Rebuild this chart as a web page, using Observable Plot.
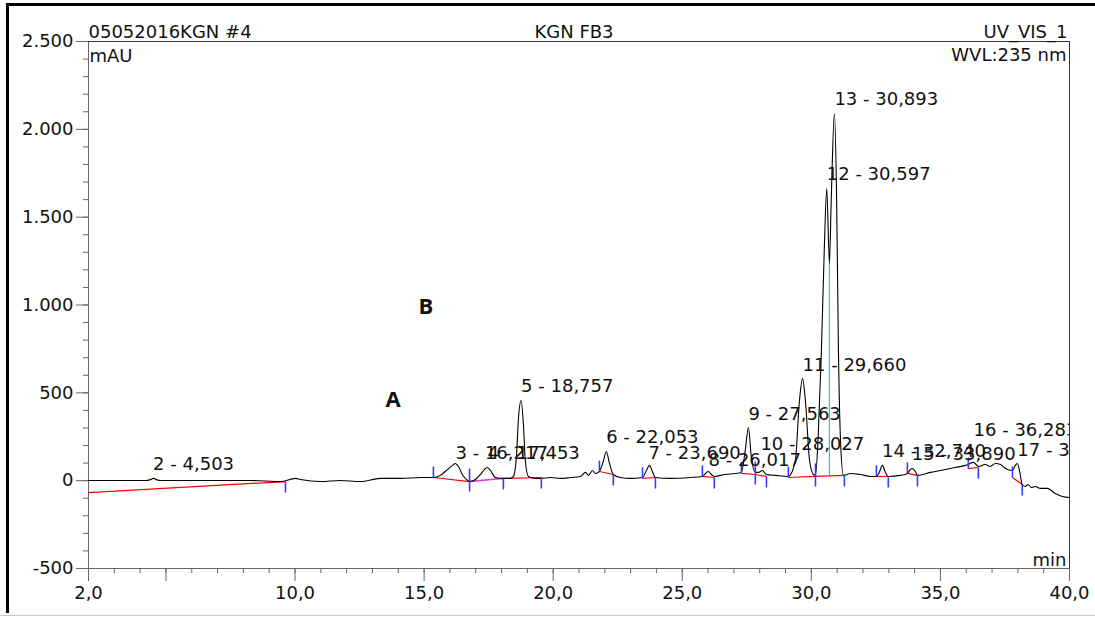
<!DOCTYPE html>
<html><head><meta charset="utf-8">
<script src="https://cdn.jsdelivr.net/npm/d3@7"></script>
<script src="https://cdn.jsdelivr.net/npm/@observablehq/plot@0.6"></script>
<style>
html,body{margin:0;padding:0;background:#fff;}
#wrap{position:relative;width:1095px;height:618px;overflow:hidden;}
#border{position:absolute;left:6px;top:3px;width:1089px;height:610px;border-left:3px solid #000;border-top:3px solid #000;box-sizing:border-box;pointer-events:none;}
#bottomline{position:absolute;left:0;top:615px;width:1095px;height:1px;background:#c8c8c8;}
</style></head><body><div id="wrap"><div id="border"></div><div id="bottomline"></div></div>
<script>
// Chromatogram trace (retention time in min, signal in mAU)
const traceTime = [2.00,3.24,4.21,4.40,4.52,4.63,4.79,6.34,8.27,9.44,10.02,10.21,10.98,11.75,12.53,13.31,14.08,14.86,15.36,15.63,15.86,16.10,16.21,16.33,16.48,16.64,16.76,16.99,17.18,17.34,17.45,17.57,17.76,18.07,18.34,18.46,18.58,18.65,18.757,18.85,18.92,19.04,19.31,19.54,19.89,20.28,20.67,21.06,21.25,21.37,21.52,21.64,21.79,21.95,22.06,22.17,22.33,22.60,22.99,23.46,23.61,23.73,23.84,23.96,24.54,25.32,25.78,25.90,26.01,26.13,26.24,26.67,27.06,27.29,27.44,27.563,27.67,27.83,27.95,28.10,28.26,28.61,29.11,29.38,29.54,29.66,29.77,29.93,30.08,30.16,30.27,30.39,30.50,30.597,30.70,30.77,30.893,30.98,31.05,31.13,31.24,31.51,31.90,32.29,32.52,32.63,32.75,32.87,32.98,33.45,33.72,33.84,33.91,34.03,34.11,34.61,35.00,35.58,35.97,36.08,36.28,36.47,36.74,36.93,37.13,37.33,37.52,37.79,37.90,37.98,38.06,38.17,38.29,38.40,38.52,38.68,38.87,39.14,39.45,39.72,40.00];
const traceMAU = [1,1,1,6,13,6,1,1,1,-5,13,7,-5,1,-5,13,13,18,18,30,58,87,98,81,35,7,-5,7,35,64,75,58,18,13,13,24,143,343,456,314,115,24,13,13,18,13,18,24,47,30,58,41,52,115,166,104,35,18,13,18,58,87,52,18,13,18,24,41,52,35,24,35,41,47,172,303,143,47,47,58,35,30,24,115,456,581,456,115,35,30,269,740,1310,1663,1237,1595,2090,1595,740,229,30,41,35,24,24,47,87,47,24,30,41,64,69,52,30,47,58,75,87,92,104,81,92,81,98,92,69,58,87,98,58,-22,-33,-22,-39,-33,-44,-44,-73,-90,-96];

// Peak annotations
const peakNo = [2,3,4,5,6,7,8,9,10,11,12,13,14,15,16,17];
const peakRT = [4.503,16.217,17.453,18.757,22.053,23.690,26.017,27.563,28.027,29.660,30.597,30.893,32.740,33.890,36.283,37.980];
const labelMAU = [58,121,121,502,212,126,81,348,172,627,1709,2136,132,115,257,143];

// Integration baselines (red)
const baseT1 = [2.00,15.36,18.07,21.79,23.46,25.78,27.29,27.83,29.11,30.16,32.52,33.72,36.08,37.79];
const baseV1 = [-68,18,13,52,13,24,41,35,18,24,24,41,69,18];
const baseT2 = [9.63,16.76,19.54,22.33,23.96,26.24,27.83,28.26,30.16,31.28,32.98,34.11,36.47,38.17];
const baseV2 = [-5,-5,18,35,18,18,35,24,24,30,24,30,75,-22];
// Baseline of peak 4 (magenta)
const base4T1 = [16.76], base4V1 = [-5], base4T2 = [18.07], base4V2 = [13];
// Drop line between peaks 12 and 13 (cyan)
const dropT = [30.70], dropTop = [1237], dropBottom = [27];

// Peak start / end markers (blue)
const markT = [9.63,15.36,16.76,18.07,19.54,21.79,22.33,23.46,23.96,25.78,26.24,27.29,27.83,28.26,29.11,30.16,31.28,32.52,32.98,33.72,34.11,36.08,36.47,37.79,38.17];
const markV = [-5,18,-5,13,18,52,35,13,18,24,18,41,35,24,18,24,30,24,24,41,30,69,75,18,-22];
const markKind = ["end","start","both","end","end","start","end","start","end","start","end","start","both","end","start","both","end","start","end","start","end","start","end","start","end"];

// Letters A / B
const letters = ["A","B"];
const letterT = [13.50,14.78];
const letterMAU = [422,946];

// Axis ticks
const xMajor = [2,5,10,15,20,25,30,35,40];
const xMinor = d3.range(3,40,1);
const yMajor = [-500,0,500,1000,1500,2000,2500];
const yMinor = d3.range(-400,2500,100);

const trace = traceTime.map((t,i)=>({t, v: traceMAU[i]}));
const peaks = peakNo.map((n,i)=>({n, rt: peakRT[i], lv: labelMAU[i]}));
const bases = baseT1.map((t,i)=>({t1:t, v1:baseV1[i], t2:baseT2[i], v2:baseV2[i]}));
const base4 = base4T1.map((t,i)=>({t1:t, v1:base4V1[i], t2:base4T2[i], v2:base4V2[i]}));
const drops = dropT.map((t,i)=>({t, top: dropTop[i], bottom: dropBottom[i]}));
const marks = markT.map((t,i)=>({t, v: markV[i], kind: markKind[i]}));
const lets = letters.map((s,i)=>({s, t: letterT[i], v: letterMAU[i]}));

const upSym = {draw(c){c.moveTo(0,0);c.lineTo(0,-11);}};
const downSym = {draw(c){c.moveTo(0,0);c.lineTo(0,11);}};
const bothSym = {draw(c){c.moveTo(0,-13);c.lineTo(0,10);}};

const yFmt = d => (d<0?"-":"") + String(Math.abs(d)).replace(/\B(?=(\d{3})+(?!\d))/g, ".");
const xFmt = d => d===5 ? "" : d.toFixed(1).replace(".", ",");
const rtFmt = d => d.toFixed(3).replace(".", ",");
const axisCol = "#666";

const chart = Plot.plot({
  width: 1095, height: 618,
  marginLeft: 88, marginRight: 26, marginTop: 41, marginBottom: 50,
  style: {fontFamily: "DejaVu Sans", fontSize: "18px", color: "#111", background: "transparent", overflow: "visible"},
  x: {domain: [2,40], axis: null},
  y: {domain: [-500,2500], axis: null},
  marks: [
    // axes
    Plot.axisX(xMinor, {tickSize: 5, tickFormat: () => "", stroke: axisCol}),
    Plot.axisX(xMajor, {tickSize: 13, tickPadding: 5, tickFormat: xFmt, stroke: axisCol, fill: "#111"}),
    Plot.axisY(yMinor, {tickSize: 5, tickFormat: () => "", stroke: axisCol}),
    Plot.axisY(yMajor, {tickSize: 12, tickPadding: 3, tickFormat: yFmt, stroke: axisCol, fill: "#111"}),
    Plot.ruleX([2], {stroke: axisCol}),
    Plot.ruleY([-500], {stroke: axisCol}),
    Plot.ruleY([2500], {stroke: "#333"}),
    Plot.ruleX([40], {stroke: "#333"}),
    // integration
    Plot.link(bases, {x1: "t1", y1: "v1", x2: "t2", y2: "v2", stroke: "#ff0000", strokeWidth: 1.2}),
    Plot.link(base4, {x1: "t1", y1: "v1", x2: "t2", y2: "v2", stroke: "#e83cd8", strokeWidth: 1.6}),
    Plot.ruleX(drops, {x: "t", y1: "bottom", y2: "top", stroke: "#00d8e0", strokeWidth: 1.2}),
    // trace
    Plot.line(trace, {x: "t", y: "v", stroke: "#000", strokeWidth: 1.1, curve: "monotone-x"}),
    // markers
    Plot.dot(marks.filter(d=>d.kind==="start"), {x: "t", y: "v", symbol: upSym, stroke: "#3a3aff", fill: "none", strokeWidth: 1.6}),
    Plot.dot(marks.filter(d=>d.kind==="end"), {x: "t", y: "v", symbol: downSym, stroke: "#3a3aff", fill: "none", strokeWidth: 1.6}),
    Plot.dot(marks.filter(d=>d.kind==="both"), {x: "t", y: "v", symbol: bothSym, stroke: "#3a3aff", fill: "none", strokeWidth: 1.6}),
    // peak labels
    Plot.text(peaks, {x: "rt", y: "lv", text: d => `${d.n} - ${rtFmt(d.rt)}`, textAnchor: "start", lineAnchor: "bottom", fill: "#111", fontSize: 18, clip: true}),
    // letters
    Plot.text(lets, {x: "t", y: "v", text: "s", textAnchor: "start", lineAnchor: "bottom", fontFamily: "Open Sans", fontWeight: "bold", fontSize: 22, fill: "#111"}),
    // header / units
    Plot.text(["05052016KGN #4"], {frameAnchor: "top-left", textAnchor: "start", lineAnchor: "bottom", dx: 0, dy: -4, fill: "#111"}),
    Plot.text(["KGN FB3"], {frameAnchor: "top", lineAnchor: "bottom", dx: -5, dy: -4, fill: "#111"}),
    Plot.text(["UV_VIS_1"], {frameAnchor: "top-right", textAnchor: "end", lineAnchor: "bottom", dx: -2, dy: -4, fill: "#111"}),
    Plot.text(["mAU"], {frameAnchor: "top-left", textAnchor: "start", lineAnchor: "bottom", dx: 1, dy: 20, fill: "#111"}),
    Plot.text(["WVL:235 nm"], {frameAnchor: "top-right", textAnchor: "end", lineAnchor: "bottom", dx: -3, dy: 19, fill: "#111"}),
    Plot.text(["min"], {frameAnchor: "bottom-right", textAnchor: "end", lineAnchor: "bottom", dx: -3, dy: -3, fill: "#111"})
  ]
});
chart.style.position = "absolute";
chart.style.left = "0px";
chart.style.top = "0px";
document.getElementById("wrap").appendChild(chart);
</script></body></html>
